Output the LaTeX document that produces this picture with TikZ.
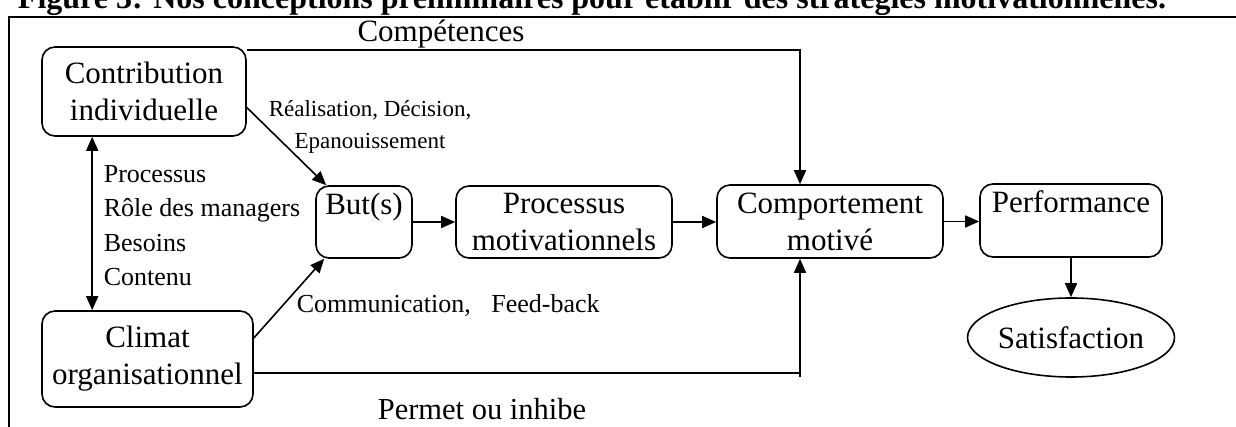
\documentclass[tikz,border=0pt]{standalone}
\usepackage{fontspec}
\setmainfont{Liberation Serif}
\usetikzlibrary{arrows.meta, shapes.geometric, positioning}

\begin{document}
\begin{tikzpicture}[x=1pt, y=-1pt, line width=1.6pt, >={Triangle[length=14pt, width=12pt]}]
            \tikzset{
                main_box/.style={draw, shape = rectangle, rounded corners=13pt, inner sep=2pt, align=center, font=\fontsize{31}{37}\selectfont},
                end_box/.style={draw, shape = ellipse, inner sep=0pt, font=\fontsize{31}{37}\selectfont},
                side_text/.style={inner sep=0pt, font=\fontsize{26}{34.5}\selectfont}
            }
            \useasboundingbox (0,0) rectangle (1236,427);
            \node[anchor=base, inner sep=0pt, font=\bfseries\fontsize{32}{36}\selectfont] (fig_title) at (592,9) {Figure 3: Nos conceptions préliminaires pour établir des stratégies motivationnelles.};
            \draw[line width=2.5pt] (9,427) -- (9,17) -- (1236,17);

            \node[main_box, minimum width=204, minimum height=89] (contrib) at (144,91.5) {Contribution\\individuelle};
            \node[main_box, minimum width=211, minimum height=96] (climat) at (147.5,359) {Climat\\organisationnel};
            \node[main_box, minimum width=96, minimum height=72] (but) at (364,222) {But(s)\\\mbox{}};
            \node[main_box, minimum width=216, minimum height=72] (proc) at (564,222) {Processus\\motivationnels};
            \node[main_box, minimum width=226, minimum height=73] (comp) at (830,221.5) {Comportement\\motivé};
            \node[main_box, minimum width=182, minimum height=73] (perf) at (1071,220.5) {Performance\\\mbox{}};
            \node[end_box, minimum width=182, minimum height=79] (satis) at (1071,337.5) {Satisfaction};

            \node[side_text, font=\fontsize{31}{36}\selectfont] (comp_label) at (441,34) {Compétences};
            \node[side_text, align=center, font=\fontsize{23}{32}\selectfont] (real_label) at (370,127) {Réalisation, Décision,\\Epanouissement};
            \node[side_text, align=left, anchor=west] (role_label) at (103,225.5) {Processus\\Rôle des managers\\Besoins\\Contenu};
            \node[side_text, anchor=west] (comm_label) at (296,305) {Communication,\hspace{14pt} Feed-back};
            \node[side_text, font=\fontsize{30.5}{34}\selectfont] (perm_label) at (482,409) {Permet ou inhibe};

            \coordinate (top_turn) at (800,50);
            \coordinate (bottom_turn) at (800,373);

            \draw[<->] ([xshift=51pt]contrib.south west) -- ([xshift=51pt]contrib.south west |- climat.north);
            \draw[->] ([yshift=-16pt]contrib.east) -- ([xshift=11pt]but.north west);
            \draw[->] ([yshift=21pt]climat.east) -- ([xshift=9pt]but.south west);
            \draw[->] (but.east) -- (proc.west);
            \draw[->] (proc.east) -- (comp.west |- proc.east);
            \draw[->] (comp.east) -- (perf.west |- comp.east);
            \draw[->] (perf.south) -- (satis.north);
            \draw[->] (contrib.east |- top_turn) -- (top_turn) -- (top_turn |- comp.north);
            \draw (climat.east |- bottom_turn) -- (bottom_turn);
            \draw[->] ([yshift=-4pt]bottom_turn) -- (bottom_turn |- comp.south);
        \end{tikzpicture}
\end{document}
